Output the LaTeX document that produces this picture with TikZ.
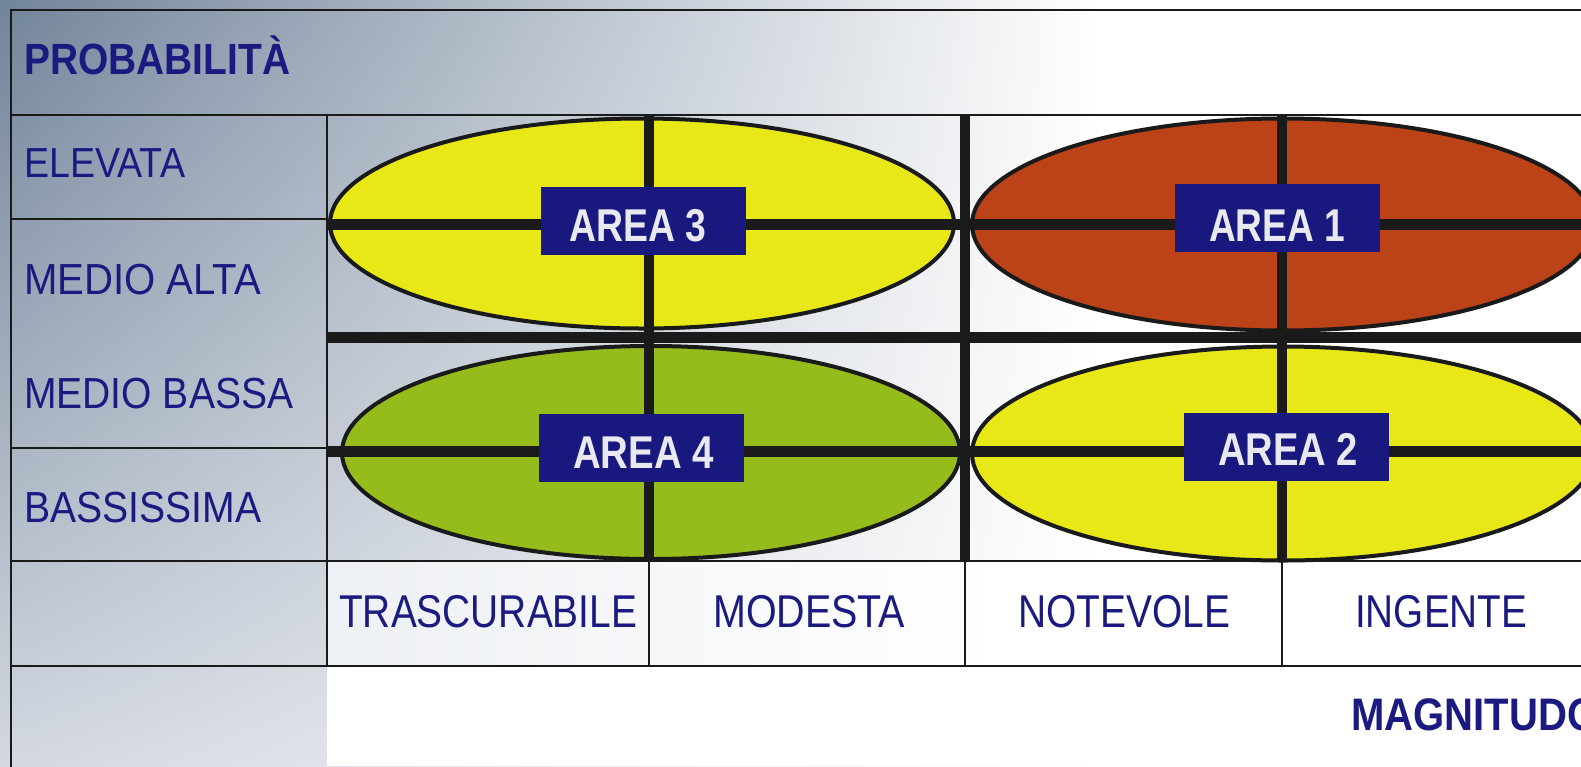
\documentclass[tikz,border=0pt]{standalone}
\usepackage{fontspec}
\usepackage{graphicx}
\usetikzlibrary{shadings}
\setmainfont{Liberation Sans}
\newfontfamily\af{Liberation Sans}
\definecolor{navytext}{HTML}{1A1A80}
\definecolor{navybox}{HTML}{18187F}
\definecolor{areatext}{HTML}{E8E8F0}
\definecolor{lineblack}{HTML}{1A1A1A}
\definecolor{ellyellow}{HTML}{E8E817}
\definecolor{ellred}{HTML}{BC4318}
\definecolor{ellgreen}{HTML}{95BC1A}
\definecolor{bgdark}{HTML}{72849B}
\definecolor{bglow}{HTML}{D3D8E0}
\definecolor{bgrow}{HTML}{EDF0F4}
\newcommand\fw[3]{\resizebox{#1pt}{\height}{\fontsize{#2pt}{#2pt}\selectfont #3}}
\tikzset{
  thinln/.style={line width=2pt, draw=lineblack},
  thickh/.style={line width=11pt, draw=lineblack},
  thickv/.style={line width=10pt, draw=lineblack},
  ell/.style={line width=4pt, draw=lineblack},
  lbl/.style={anchor=base west, inner sep=0pt, text=navytext, font=\af},
  boldlbl/.style={lbl, font=\af\bfseries},
  areabox/.style={fill=navybox, inner sep=0pt, minimum width=205pt, minimum height=68pt},
  arealbl/.style={anchor=base west, inner sep=0pt, text=areatext, font=\af\bfseries},
}
\begin{document}
\begin{tikzpicture}[x=1pt,y=-1pt]
\useasboundingbox (0,0) rectangle (1581,766);
\clip (0,0) rectangle (1581,766);
% background
\fill[white] (0,0) rectangle (1581,766);
\shade[upper left=bgdark, upper right=white, lower left=bglow, lower right=white] (0,0) rectangle (1100,766);
\shade[left color=bgrow, right color=white] (327,561) rectangle (1000,666);
\fill[white] (1000,561) rectangle (1581,666);
\fill[white] (327,666) rectangle (1581,766);
% ellipses
\draw[ell, fill=ellyellow] (642,223.5) ellipse [x radius=312, y radius=105];
\draw[ell, fill=ellred] (1283,224.5) ellipse [x radius=311, y radius=106];
\draw[ell, fill=ellgreen] (651,452.5) ellipse [x radius=309, y radius=106.5];
\draw[ell, fill=ellyellow] (1283,453.5) ellipse [x radius=311, y radius=107];
% thin grid lines
\draw[thinln] (11,10) -- (1590,10);
\draw[thinln] (11,9) -- (11,770);
\draw[thinln] (11,115) -- (1590,115);
\draw[thinln] (327,115) -- (327,666);
\draw[thinln] (11,219) -- (327,219);
\draw[thinln] (11,447.5) -- (327,447.5);
\draw[thinln] (11,561) -- (1590,561);
\draw[thinln] (11,666) -- (1590,666);
\draw[thinln] (649,561) -- (649,666);
\draw[thinln] (965,561) -- (965,666);
\draw[thinln] (1282,561) -- (1282,666);
% thick lines
\draw[thickh] (327,224) -- (1590,224);
\draw[thickh] (327,337.5) -- (1590,337.5);
\draw[thickh] (327,451.5) -- (1590,451.5);
\draw[thickv] (649,115) -- (649,561);
\draw[thickv] (965,115) -- (965,561);
\draw[thickv] (1282,115) -- (1282,561);
% area boxes
\node[areabox] (box3) at (643.5,221) {};
\node[areabox] (box1) at (1277,218) {};
\node[areabox] (box4) at (641.5,448) {};
\node[areabox] (box2) at (1286.5,447) {};
\node[arealbl] (lab3) at (569,241) {\fw{137}{46}{AREA 3}};
\node[arealbl] (lab1) at (1209,241) {\fw{136}{46}{AREA 1}};
\node[arealbl] (lab4) at (573,468) {\fw{141}{46}{AREA 4}};
\node[arealbl] (lab2) at (1218,465) {\fw{140}{46}{AREA 2}};
% labels
\node[boldlbl] (prob) at (24,74) {\fw{266}{43.7}{PROBABILITÀ}};
\node[lbl] (r1) at (24,177) {\fw{161}{42}{ELEVATA}};
\node[lbl] (r2) at (24,294) {\fw{237}{43.5}{MEDIO ALTA}};
\node[lbl] (r3) at (24,408) {\fw{269}{43.5}{MEDIO BASSA}};
\node[lbl] (r4) at (24,522) {\fw{237}{43.5}{BASSISSIMA}};
\node[lbl] (c1) at (339,627) {\fw{298}{46}{TRASCURABILE}};
\node[lbl] (c2) at (713,627) {\fw{192}{46}{MODESTA}};
\node[lbl] (c3) at (1018,627) {\fw{212}{46}{NOTEVOLE}};
\node[lbl] (c4) at (1355,627) {\fw{172}{46}{INGENTE}};
\node[boldlbl] (mag) at (1351,730) {\fw{247}{45.6}{MAGNITUDO}};
\end{tikzpicture}
\end{document}
